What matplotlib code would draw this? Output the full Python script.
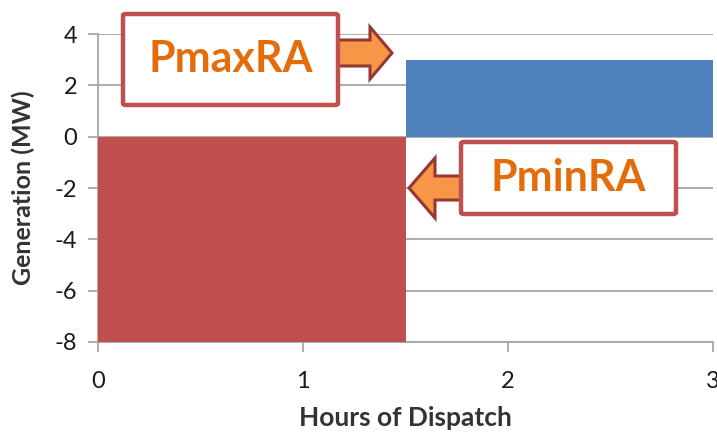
import matplotlib
matplotlib.use("Agg")
import matplotlib.pyplot as plt
from matplotlib.patches import FancyArrow, FancyBboxPatch

plt.rcParams['font.family'] = ['Lato', 'DejaVu Sans']
plt.rcParams['axes.unicode_minus'] = False

# data
hours_start = [0, 1.5]
hours_width = [1.5, 1.5]
generation = [-8, 3]
bar_colors = ['#C0504D', '#4F81BD']
x_ticks = [0, 1, 2, 3]
y_ticks = [-8, -6, -4, -2, 0, 2, 4]

W, H = 717, 437
fig = plt.figure(figsize=(W / 100, H / 100), dpi=100)
ax = fig.add_axes([98 / W, 1 - 342 / H, (713 - 98) / W, (342 - 34) / H])

ax.bar(hours_start, generation, width=hours_width, align='edge',
       color=bar_colors, zorder=3, clip_on=False)

ax.set_xlim(0, 3)
ax.set_ylim(-8, 4)
ax.set_xticks(x_ticks)
ax.set_yticks(y_ticks)
ax.yaxis.grid(True, color='#A6A6A6', lw=1.3, zorder=0)
for s in ['top', 'right']:
    ax.spines[s].set_visible(False)
for s in ['left', 'bottom']:
    ax.spines[s].set_color('#A6A6A6')
    ax.spines[s].set_linewidth(1.3)
ax.tick_params(axis='both', colors='#A6A6A6', width=1.3, length=7,
               labelcolor='#1a1a1a', labelsize=17)
ax.tick_params(axis='x', pad=14)
ax.tick_params(axis='y', pad=8)
ax.set_xlabel('Hours of Dispatch', fontsize=19, fontweight='bold',
              color='#333333', labelpad=10)
ax.set_ylabel('Generation (MW)', fontsize=18, fontweight='bold',
              color='#333333', labelpad=14)


def fx(px):
    return px / W


def fy(py):
    return 1 - py / H


def callout(x0, y0, x1, y1, label):
    box = FancyBboxPatch((fx(x0), fy(y1)), fx(x1 - x0), (y1 - y0) / H,
                         boxstyle='round,pad=0,rounding_size=0.004',
                         transform=fig.transFigure, facecolor='white',
                         edgecolor='#C0504D', lw=3.2, zorder=10)
    fig.patches.append(box)
    fig.text(fx((x0 + x1) / 2), fy((y0 + y1) / 2), label, ha='center',
             va='center', fontsize=31, fontweight='bold', color='#E46C0A',
             zorder=11)


def arrow(x_start, x_end, yc, shaft, head, head_len):
    a = FancyArrow(fx(x_start), fy(yc), fx(x_end - x_start), 0,
                   width=shaft / H, head_width=head / H,
                   head_length=abs(head_len) / W,
                   length_includes_head=True, transform=fig.transFigure,
                   facecolor='#F79646', edgecolor='#953735', lw=2.2,
                   zorder=9)
    fig.patches.append(a)


callout(123, 14, 338, 105, 'PmaxRA')
arrow(336, 392, 53, 26, 52, 22)

callout(461, 142, 676, 214, 'PminRA')
arrow(464, 409, 188, 24, 60, 26)

fig.savefig('out.png', dpi=100)
